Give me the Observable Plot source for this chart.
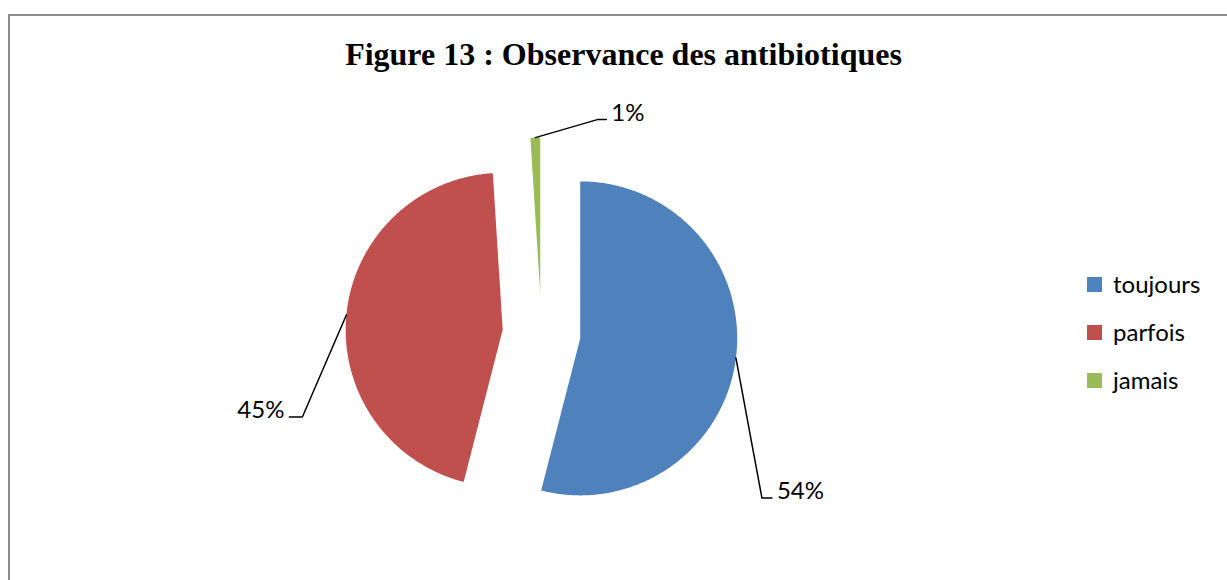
<!DOCTYPE html>
<html>
<head>
<meta charset="utf-8">
<script src="https://cdn.jsdelivr.net/npm/d3@7"></script>
<script src="https://cdn.jsdelivr.net/npm/@observablehq/plot@0.6"></script>
<style>
html, body { margin: 0; padding: 0; background: #fff; overflow: hidden; }
#wrap { position: relative; width: 1227px; height: 580px; overflow: hidden; background: #fff; }
#frame { position: absolute; left: 8px; top: 14px; width: 1400px; height: 800px; border: 2px solid #8c8c8c; box-sizing: border-box; }
#chart { position: absolute; left: 0; top: 0; }
#title { position: absolute; left: 20px; width: 1207px; top: 38px; text-align: center;
  font-family: "Liberation Serif", "Times New Roman", serif; font-weight: bold; font-size: 32px; line-height: 32px; color: #000; white-space: nowrap; }
#legend { position: absolute; left: 1087px; top: 0; font-family: Lato, "Noto Sans", sans-serif; font-size: 24px; color: #000; }
.item { position: absolute; left: 0; height: 24px; display: flex; align-items: center; white-space: nowrap; }
.sw { width: 15px; height: 15px; margin-right: 11px; flex: none; position: relative; top: 1px; }
</style>
</head>
<body>
<div id="wrap">
  <div id="frame"></div>
  <div id="chart"></div>
  <div id="title"></div>
  <div id="legend"></div>
</div>
<script>
// ---- data ----
const titleText = "Figure 13 : Observance des antibiotiques";
const categories = ["toujours", "parfois", "jamais"];
const values = [54, 45, 1];
const labels = ["54%", "45%", "1%"];
const colors = ["#4F81BD", "#C0504D", "#9BBB59"];

// ---- layout (pixels) ----
const W = 1227, H = 580;
const cx = 541, cy = 333, R = 157, explode = 39;
// leader bend offsets from the slice edge (px, screen: +y down), and horizontal tail length
const leaderOffsets = [[26, 140], [-44, 102], [62, -18]];
const tailLen = [10, -13, 9];
const legendY = [283, 331, 379];

// ---- slice geometry in radius units (y up) ----
const total = d3.sum(values);
const pts = [];
const leaders = [];
const labelPts = [];
let acc = 0;
values.forEach((v, i) => {
  const a0 = acc / total * 2 * Math.PI;
  acc += v;
  const a1 = acc / total * 2 * Math.PI;
  const m = (a0 + a1) / 2;
  const e = explode / R;
  const ex = e * Math.sin(m), ey = e * Math.cos(m);
  const cat = categories[i];
  pts.push({cat, x: ex, y: ey});
  const n = Math.max(2, Math.ceil((a1 - a0) / (Math.PI / 360)));
  for (let k = 0; k <= n; k++) {
    const t = a0 + (a1 - a0) * k / n;
    pts.push({cat, x: ex + Math.sin(t), y: ey + Math.cos(t)});
  }
  pts.push({cat, x: ex, y: ey});
  // leader line
  const sx = ex + Math.sin(m), sy = ey + Math.cos(m);
  const bx = sx + leaderOffsets[i][0] / R, by = sy - leaderOffsets[i][1] / R;
  const tx = bx + tailLen[i] / R;
  leaders.push({cat, x: sx, y: sy}, {cat, x: bx, y: by}, {cat, x: tx, y: by});
  labelPts.push({label: labels[i], x: tx, y: by, right: tailLen[i] > 0});
});

const plot = Plot.plot({
  width: W, height: H,
  margin: 0,
  x: {domain: [-cx / R, (W - cx) / R], axis: null},
  y: {domain: [-(H - cy) / R, cy / R], axis: null},
  color: {domain: categories, range: colors},
  style: {background: "transparent"},
  marks: [
    Plot.line(pts, {x: "x", y: "y", z: "cat", fill: "cat", stroke: null, curve: "linear"}),
    Plot.line(leaders, {x: "x", y: "y", z: "cat", stroke: "#000", strokeWidth: 1.5, curve: "linear"}),
    Plot.text(labelPts.filter(d => d.right), {x: "x", y: "y", text: "label", textAnchor: "start", lineAnchor: "bottom", dx: 5, dy: 1,
      fontSize: 24, fontFamily: "Lato, 'Noto Sans', sans-serif", fill: "#000"}),
    Plot.text(labelPts.filter(d => !d.right), {x: "x", y: "y", text: "label", textAnchor: "end", lineAnchor: "bottom", dx: -5, dy: 1,
      fontSize: 24, fontFamily: "Lato, 'Noto Sans', sans-serif", fill: "#000"})
  ]
});
document.getElementById("chart").appendChild(plot);
document.getElementById("title").textContent = titleText;

const legend = document.getElementById("legend");
categories.forEach((c, i) => {
  const item = document.createElement("div");
  item.className = "item";
  item.style.top = (legendY[i] - 12) + "px";
  const sw = document.createElement("span");
  sw.className = "sw";
  sw.style.background = colors[i];
  const tx = document.createElement("span");
  tx.textContent = c;
  item.appendChild(sw);
  item.appendChild(tx);
  legend.appendChild(item);
});
</script>
</body>
</html>
